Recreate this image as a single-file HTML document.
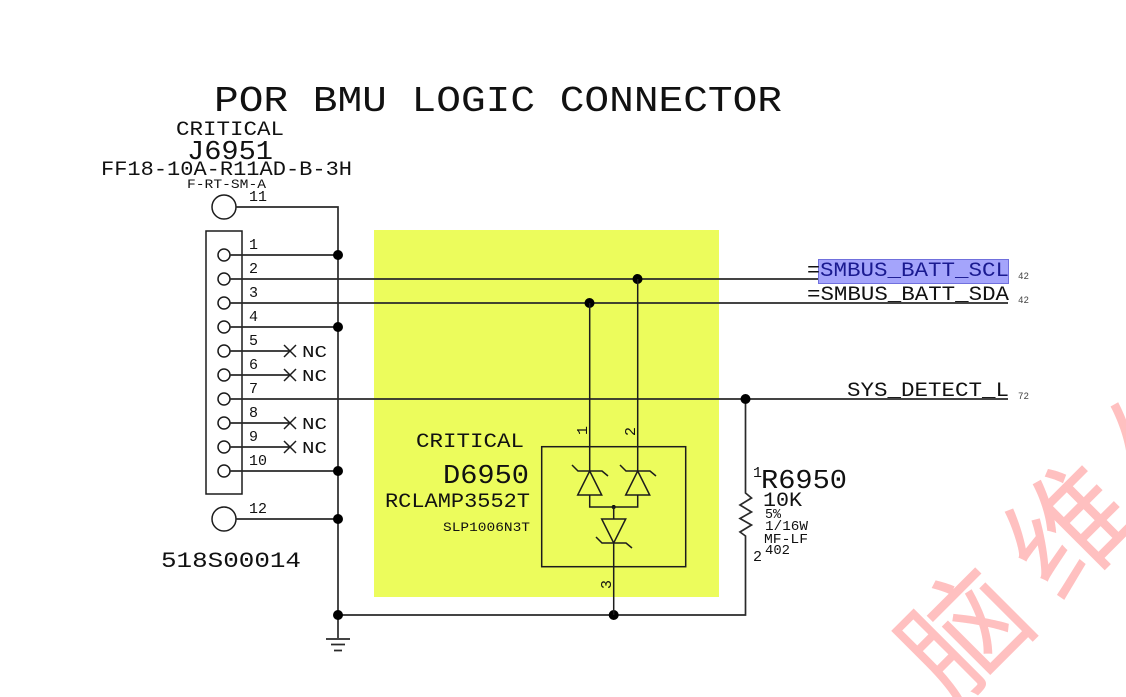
<!DOCTYPE html>
<html>
<head>
<meta charset="utf-8">
<style>
html,body{margin:0;padding:0;background:#fff;width:1126px;height:697px;overflow:hidden}
svg{display:block}
text{font-family:"Liberation Mono",monospace;fill:#111}
.w{stroke:#2a2a2a;stroke-width:1.7;fill:none}
.k{stroke:#1c1c1c;stroke-width:1.5;fill:none}
.p{font-size:15px}
.wm{font-family:"Liberation Sans","Noto Sans CJK SC",sans-serif;fill:#ffc0c0;font-size:122px;letter-spacing:26px}
</style>
</head>
<body>
<svg width="1126" height="697" viewBox="0 0 1126 697" xmlns="http://www.w3.org/2000/svg">
<defs><clipPath id="f"><rect x="0" y="0" width="1126" height="697"/></clipPath></defs>
<rect x="0" y="0" width="1126" height="697" fill="#fff"/>
<!-- watermark -->
<g clip-path="url(#f)"><text class="wm" transform="translate(953,708) rotate(-45)">脑维修</text></g>
<!-- yellow -->
<rect x="374" y="230" width="345" height="367" fill="#ecfc5c"/>
<!-- title -->
<text x="214" y="111" font-size="36" textLength="568" lengthAdjust="spacingAndGlyphs">POR BMU LOGIC CONNECTOR</text>
<text x="176" y="135" font-size="20" textLength="108" lengthAdjust="spacingAndGlyphs">CRITICAL</text>
<text x="187" y="159" font-size="27" textLength="86" lengthAdjust="spacingAndGlyphs">J6951</text>
<text x="101" y="175" font-size="20" textLength="251" lengthAdjust="spacingAndGlyphs">FF18-10A-R11AD-B-3H</text>
<text x="187" y="188" font-size="13" textLength="79" lengthAdjust="spacingAndGlyphs">F-RT-SM-A</text>
<text x="161" y="567" font-size="22" textLength="140" lengthAdjust="spacingAndGlyphs">518S00014</text>
<!-- connector -->
<rect x="206" y="231" width="36" height="263" class="k"/>
<circle cx="224" cy="207" r="12" class="k"/>
<circle cx="224" cy="519" r="12" class="k"/>
<g class="k">
<circle cx="224" cy="255" r="6"/><circle cx="224" cy="279" r="6"/><circle cx="224" cy="303" r="6"/>
<circle cx="224" cy="327" r="6"/><circle cx="224" cy="351" r="6"/><circle cx="224" cy="375" r="6"/>
<circle cx="224" cy="399" r="6"/><circle cx="224" cy="423" r="6"/><circle cx="224" cy="447" r="6"/>
<circle cx="224" cy="471" r="6"/>
</g>
<!-- wires -->
<path class="w" d="M236 207H338V638M230 255H338M230 327H338M230 471H338M236 519H338"/>
<path class="w" d="M230 279H1008M230 303H1008M230 399H1008"/>
<path class="w" d="M230 351H290M230 375H290M230 423H290M230 447H290"/>
<path class="w" d="M338 615H745.500V536L740 532L751.500 525L740 518.500L751.500 512L740 505L751.500 498L745.500 493V399"/>
<!-- NC x -->
<path class="k" d="M284 345L296 357M296 345L284 357M284 369L296 381M296 369L284 381M284 417L296 429M296 417L284 429M284 441L296 453M296 441L284 453"/>
<text x="302" y="357" font-size="17" textLength="25" lengthAdjust="spacingAndGlyphs">NC</text>
<text x="302" y="381" font-size="17" textLength="25" lengthAdjust="spacingAndGlyphs">NC</text>
<text x="302" y="429" font-size="17" textLength="25" lengthAdjust="spacingAndGlyphs">NC</text>
<text x="302" y="453" font-size="17" textLength="25" lengthAdjust="spacingAndGlyphs">NC</text>
<!-- pin labels -->
<text class="p" x="249" y="201" textLength="18" lengthAdjust="spacingAndGlyphs">11</text>
<text class="p" x="249" y="249">1</text>
<text class="p" x="249" y="273">2</text>
<text class="p" x="249" y="297">3</text>
<text class="p" x="249" y="321">4</text>
<text class="p" x="249" y="345">5</text>
<text class="p" x="249" y="369">6</text>
<text class="p" x="249" y="393">7</text>
<text class="p" x="249" y="417">8</text>
<text class="p" x="249" y="441">9</text>
<text class="p" x="249" y="465" textLength="18" lengthAdjust="spacingAndGlyphs">10</text>
<text class="p" x="249" y="513" textLength="18" lengthAdjust="spacingAndGlyphs">12</text>
<!-- dots -->
<g fill="#000">
<circle cx="338" cy="255" r="5"/><circle cx="338" cy="327" r="5"/><circle cx="338" cy="471" r="5"/>
<circle cx="338" cy="519" r="5"/><circle cx="338" cy="615" r="5"/>
<circle cx="637.500" cy="279" r="5"/><circle cx="589.500" cy="303" r="5"/><circle cx="745.500" cy="399" r="5"/>
<circle cx="613.700" cy="615" r="5"/><circle cx="613.700" cy="507" r="2"/>
</g>
<!-- ground -->
<path class="w" d="M326 639H350M331 644.500H345M334 650.500H342"/>
<!-- IC -->
<rect x="541.700" y="446.700" width="144" height="120" class="k"/>
<g class="k">
<path d="M589.700 303V471M637.700 279V471"/>
<path d="M589.700 471L601.700 495H577.700Z"/>
<path d="M637.700 471L649.700 495H625.700Z"/>
<path d="M572 465L578 471H602L608 476"/>
<path d="M620 465L626 471H650L656 476"/>
<path d="M589.700 495V507H637.700V495M613.700 507V519"/>
<path d="M601.700 519H625.700L613.700 543Z"/>
<path d="M596 537L602 543H626L632 548"/>
<path d="M613.700 543V615"/>
</g>
<text x="416" y="447" font-size="20" textLength="108" lengthAdjust="spacingAndGlyphs">CRITICAL</text>
<text x="443" y="483" font-size="27" textLength="86" lengthAdjust="spacingAndGlyphs">D6950</text>
<text x="385" y="507" font-size="20" textLength="145" lengthAdjust="spacingAndGlyphs">RCLAMP3552T</text>
<text x="443" y="531" font-size="13" textLength="87" lengthAdjust="spacingAndGlyphs">SLP1006N3T</text>
<text class="p" transform="translate(587,435) rotate(-90)">1</text>
<text class="p" transform="translate(635,436) rotate(-90)">2</text>
<text class="p" transform="translate(611,589) rotate(-90)">3</text>
<!-- nets -->
<rect x="818.500" y="259.500" width="190" height="24" fill="#a4a4fb" stroke="#7070dd"/>
<text x="807" y="276" font-size="20" textLength="13" lengthAdjust="spacingAndGlyphs">=</text>
<text x="820" y="276" font-size="20" textLength="189" lengthAdjust="spacingAndGlyphs" style="fill:#1a1a90">SMBUS_BATT_SCL</text>
<text x="807" y="300" font-size="20" textLength="202" lengthAdjust="spacingAndGlyphs">=SMBUS_BATT_SDA</text>
<text x="847" y="396" font-size="20" textLength="162" lengthAdjust="spacingAndGlyphs">SYS_DETECT_L</text>
<text x="1018" y="279" font-size="10" textLength="11" lengthAdjust="spacingAndGlyphs" style="fill:#444">42</text>
<text x="1018" y="303" font-size="10" textLength="11" lengthAdjust="spacingAndGlyphs" style="fill:#444">42</text>
<text x="1018" y="399" font-size="10" textLength="11" lengthAdjust="spacingAndGlyphs" style="fill:#444">72</text>
<!-- resistor text -->
<text class="p" x="753" y="477">1</text>
<text x="761" y="488" font-size="27" textLength="86" lengthAdjust="spacingAndGlyphs">R6950</text>
<text x="763" y="506" font-size="20" textLength="39" lengthAdjust="spacingAndGlyphs">10K</text>
<text x="765" y="518" font-size="14" textLength="16" lengthAdjust="spacingAndGlyphs">5%</text>
<text x="765" y="530" font-size="14" textLength="43" lengthAdjust="spacingAndGlyphs">1/16W</text>
<text x="764" y="543" font-size="14" textLength="44" lengthAdjust="spacingAndGlyphs">MF-LF</text>
<text x="765" y="554" font-size="14" textLength="25" lengthAdjust="spacingAndGlyphs">402</text>
<text class="p" x="753" y="561">2</text>
</svg>
</body>
</html>
